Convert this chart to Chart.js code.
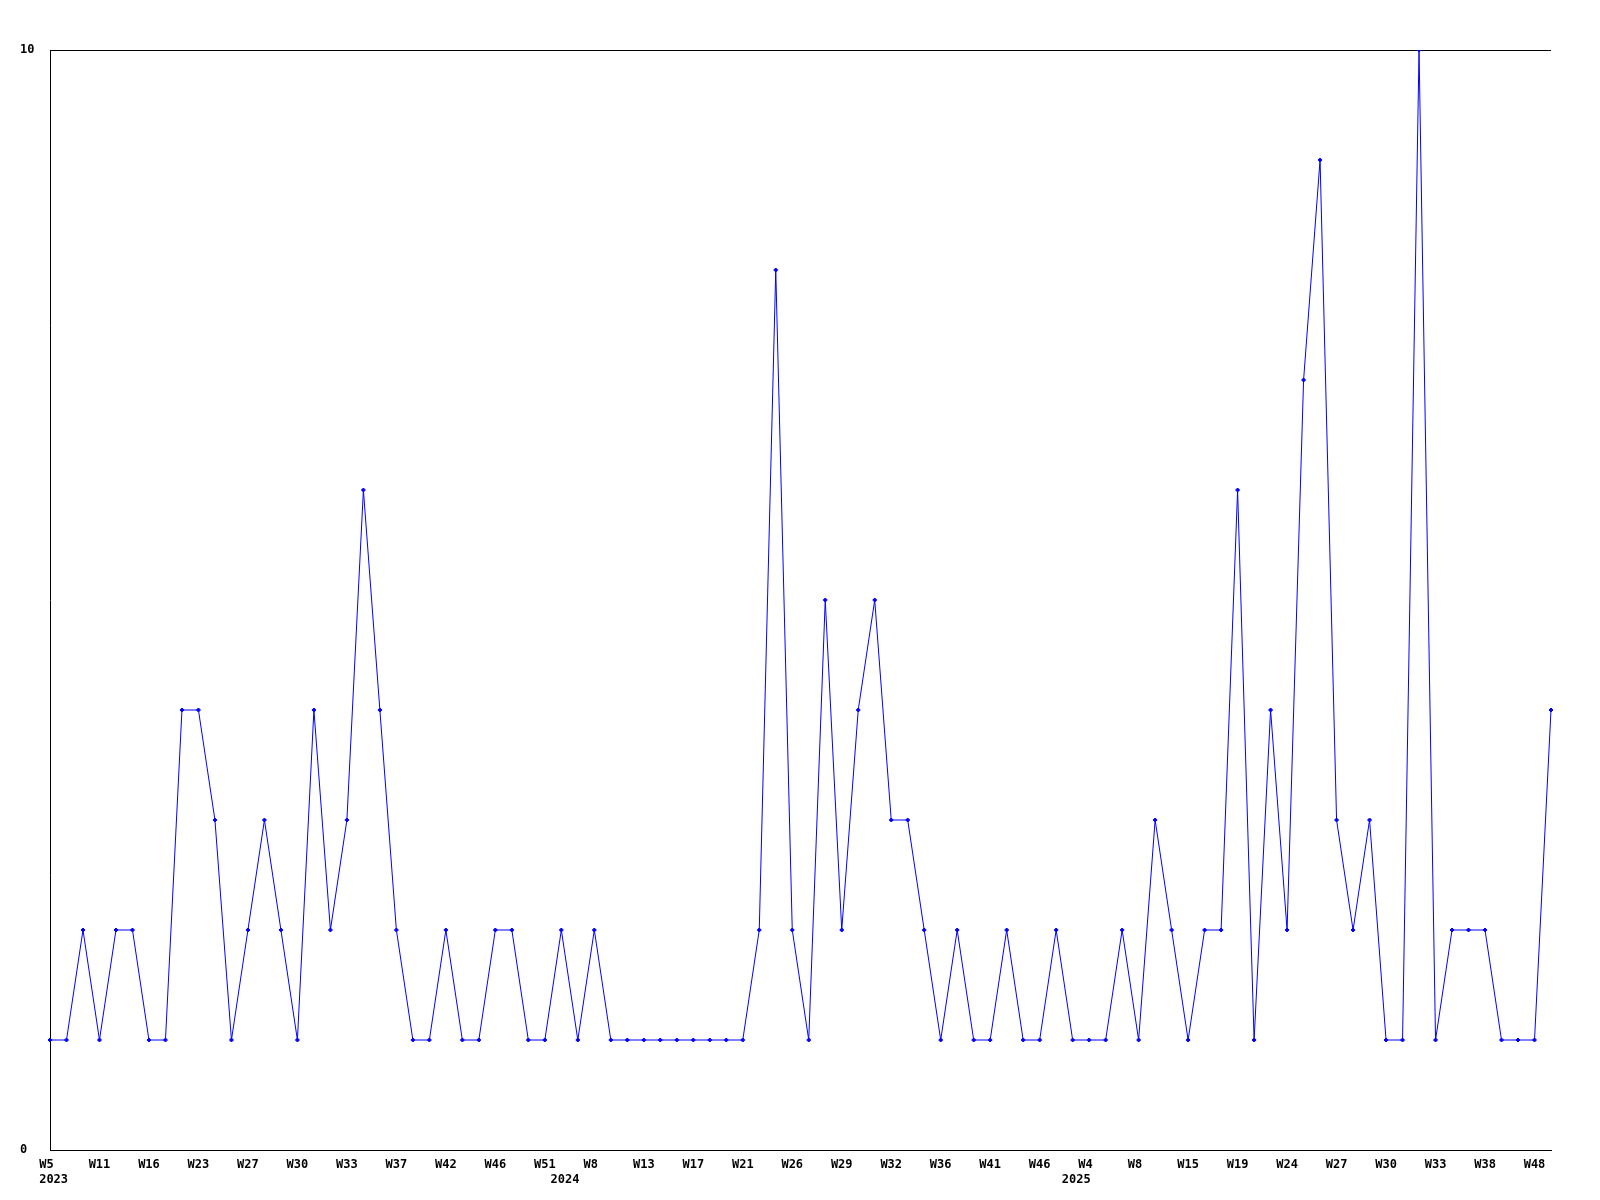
<!DOCTYPE html>
<html>
<head>
<meta charset="utf-8">
<script src="https://cdn.jsdelivr.net/npm/chart.js@4"></script>
<style>
  html, body { margin: 0; padding: 0; background: #fff; }
  #wrap { width: 1600px; height: 1200px; }
</style>
</head>
<body>
<div id="wrap"><canvas id="weekChart" width="1600" height="1200"></canvas></div>
<script>
// Năm và tuần của từng điểm (chỉ các tuần có dữ liệu)
const years = [
    2023, 2023, 2023, 2023, 2023, 2023, 2023, 2023, 2023, 2023,
    2023, 2023, 2023, 2023, 2023, 2023, 2023, 2023, 2023, 2023,
    2023, 2023, 2023, 2023, 2023, 2023, 2023, 2023, 2023, 2023,
    2023,
    2024, 2024, 2024, 2024, 2024, 2024, 2024, 2024, 2024, 2024,
    2024, 2024, 2024, 2024, 2024, 2024, 2024, 2024, 2024, 2024,
    2024, 2024, 2024, 2024, 2024, 2024, 2024, 2024, 2024, 2024,
    2024,
    2025, 2025, 2025, 2025, 2025, 2025, 2025, 2025, 2025, 2025,
    2025, 2025, 2025, 2025, 2025, 2025, 2025, 2025, 2025, 2025,
    2025, 2025, 2025, 2025, 2025, 2025, 2025, 2025, 2025, 2025
];
const weeks = [
    5, 7, 9, 11, 13, 14, 16, 19, 21, 23,
    24, 26, 27, 28, 29, 30, 31, 32, 33, 34,
    36, 37, 39, 40, 42, 43, 45, 46, 48, 50,
    51,
    1, 4, 8, 10, 11, 13, 15, 16, 17, 19,
    20, 21, 22, 24, 26, 27, 28, 29, 30, 31,
    32, 33, 35, 36, 38, 40, 41, 43, 44, 46,
    49,
    2, 4, 5, 7, 8, 10, 13, 15, 17, 18,
    19, 21, 23, 24, 25, 26, 27, 28, 29, 30,
    31, 32, 33, 35, 36, 38, 41, 44, 48, 49
];
const counts = [
    1, 1, 2, 1, 2, 2, 1, 1, 4, 4,
    3, 1, 2, 3, 2, 1, 4, 2, 3, 6,
    4, 2, 1, 1, 2, 1, 1, 2, 2, 1,
    1,
    2, 1, 2, 1, 1, 1, 1, 1, 1, 1,
    1, 1, 2, 8, 2, 1, 5, 2, 4, 5,
    3, 3, 2, 1, 2, 1, 1, 2, 1, 1,
    2,
    1, 1, 1, 2, 1, 3, 2, 1, 2, 2,
    6, 1, 4, 2, 7, 9, 3, 2, 3, 1,
    1, 10, 1, 2, 2, 2, 1, 1, 1, 4
];
const yTicks = [0, 10];
const LABEL_EVERY = 3;

const labels = weeks.map(w => 'W' + w);

const fontSpec = { family: '"DejaVu Sans Mono", "Liberation Mono", monospace', size: 12, weight: 'bold' };

// Nhãn tuần đệm cho đủ 3 ký tự, nhãn năm lệch nhẹ sang phải như bản gốc
function padWeek(s) {
    return s.length < 3 ? s + ' '.repeat(3 - s.length) : s;
}

const ctx = document.getElementById('weekChart').getContext('2d');
new Chart(ctx, {
    type: 'line',
    data: {
        labels: labels,
        datasets: [{
            data: counts,
            borderColor: '#0000ff',
            backgroundColor: '#0000ff',
            borderWidth: 1,
            pointStyle: 'rectRot',
            pointRadius: 2,
            pointBorderWidth: 1,
            tension: 0,
            fill: false
        }]
    },
    options: {
        responsive: false,
        animation: false,
        events: [],
        layout: { padding: { left: 20, right: 49, top: 50, bottom: 0 } },
        plugins: { legend: { display: false }, tooltip: { enabled: false } },
        scales: {
            x: {
                type: 'category',
                offset: false,
                grid: { display: false, drawTicks: false },
                border: { display: true, color: '#000', width: 1 },
                ticks: {
                    autoSkip: false,
                    maxRotation: 0,
                    minRotation: 0,
                    padding: 8,
                    color: '#000',
                    font: fontSpec,
                    callback: function(value, index) {
                        const newYear = index === 0 || years[index] !== years[index - 1];
                        const showWeek = index % LABEL_EVERY === 0;
                        if (!showWeek && !newYear) return null;
                        return [showWeek ? padWeek(labels[index]) : '', newYear ? ' ' + years[index] : ''];
                    }
                },
                afterFit: function(scale) { scale.height = 50; }
            },
            y: {
                min: 0,
                max: 10,
                grid: {
                    display: true,
                    drawTicks: false,
                    color: '#000',
                    lineWidth: 1
                },
                border: { display: true, color: '#000', width: 1 },
                afterBuildTicks: function(scale) {
                    scale.ticks = yTicks.map(v => ({ value: v }));
                },
                ticks: {
                    crossAlign: 'far',
                    padding: 0,
                    color: '#000',
                    font: fontSpec
                },
                afterFit: function(scale) { scale.width = 30; }
            }
        }
    }
});
</script>
</body>
</html>
